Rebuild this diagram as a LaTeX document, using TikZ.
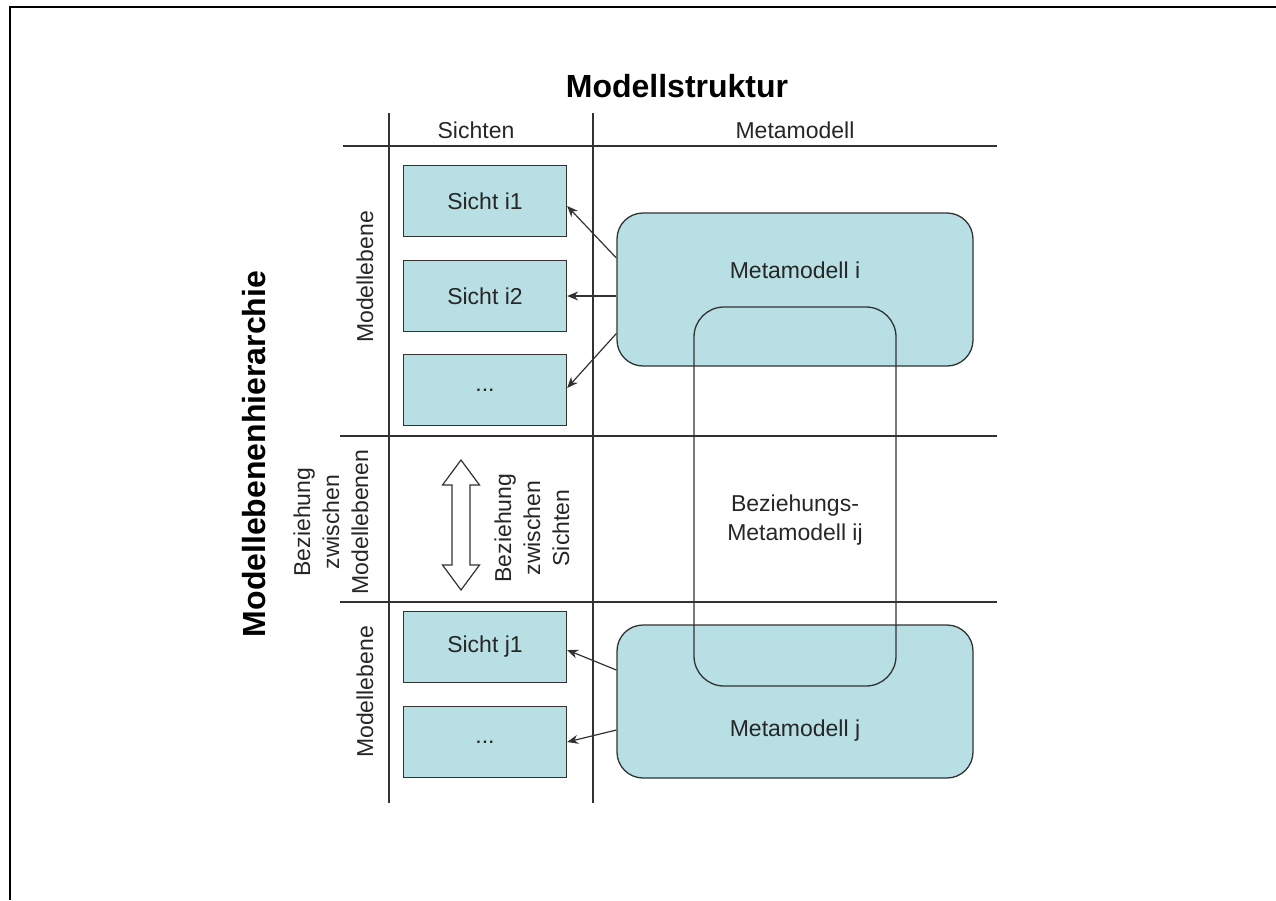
\documentclass[tikz,border=0pt]{standalone}
\usepackage{fontspec}
\setmainfont{Liberation Sans}
\usetikzlibrary{arrows.meta}
\definecolor{boxfill}{RGB}{184,223,227}
\definecolor{linec}{RGB}{50,50,50}
\tikzset{
  txt/.style={font=\fontsize{23}{29}\selectfont, text=black!85, inner sep=0pt},
  bold/.style={font=\fontsize{32}{38}\selectfont\bfseries, text=black, inner sep=0pt},
  sichtbox/.style={draw=linec, line width=1.3pt, fill=boxfill, minimum width=163pt, minimum height=71pt, inner sep=0pt, font=\fontsize{23}{29}\selectfont, text=black!85},
  metabox/.style={draw=linec, line width=1.3pt, fill=boxfill, rounded corners=26pt, minimum width=356pt, minimum height=153pt, inner sep=0pt},
  grid/.style={draw=linec, line width=1.6pt},
  arr/.style={draw=linec, line width=1.2pt, -{Stealth[length=11pt, width=9pt]}},
}
\begin{document}
\begin{tikzpicture}[x=1pt, y=-1pt]
\useasboundingbox (0,0) rectangle (1276,900);
% outer frame (clipped)
\draw[black, line width=1.6pt] (10,900) -- (10,7) -- (1276,7);

% grid
\draw[grid] (343,146) -- (997,146);
\draw[grid] (340,436) -- (997,436);
\draw[grid] (340,602) -- (997,602);
\draw[grid] (389,113) -- (389,803);
\draw[grid] (593,113) -- (593,803);

% headings
\node[bold] (title) at (677,86) {Modellstruktur};
\node[bold, rotate=90] (hier) at (254,454) {Modellebenenhierarchie};
\node[txt] (hsicht) at (476,130) {Sichten};
\node[txt] (hmeta) at (795,130) {Metamodell};
\node[txt, rotate=90] (ml1) at (365,277) {Modellebene};
\node[txt, rotate=90] (ml2) at (365,692) {Modellebene};
\node[txt, rotate=90, align=center] (bzm) at (331,522) {Beziehung\\zwischen\\Modellebenen};
\node[txt, rotate=90, align=center] (bzs) at (532,528) {Beziehung\\zwischen\\Sichten};

% Sicht boxes
\node[sichtbox] (si1) at (485,201) {Sicht i1};
\node[sichtbox] (si2) at (485,296) {Sicht i2};
\node[sichtbox] (si3) at (485,390) {...};
\node[sichtbox] (sj1) at (485,647) {Sicht j1};
\node[sichtbox] (sj2) at (485,742) {...};

% Metamodell boxes
\node[metabox] (mi) at (795,289.5) {};
\node[txt] (mit) at (795,270) {Metamodell i};
\node[metabox] (mj) at (795,701.5) {};
\node[txt] (mjt) at (795,731) {Metamodell j};

% Beziehungs-Metamodell
\node[draw=linec, line width=1.3pt, rounded corners=30pt, minimum width=202pt, minimum height=379pt, inner sep=0pt] (bm) at (795,496.5) {};
\node[txt, align=center] (bmt) at (795,520) {Beziehungs-\\Metamodell ij};

% arrows
\draw[arr] ([yshift=31.5pt]mi.west) -- ([yshift=-5pt]si1.east);
\draw[arr] (mi.west |- si2.east) -- (si2.east);
\draw[arr] ([yshift=-44pt]mi.west) -- ([yshift=2pt]si3.east);
\draw[arr] ([yshift=31.5pt]mj.west) -- ([yshift=-3pt]sj1.east);
\draw[arr] ([yshift=-28.5pt]mj.west) -- (sj2.east);

% hollow double arrow
\coordinate (da) at (461,525);
\draw[linec, line width=1.2pt, fill=white, line join=miter]
  ([shift={(0,-65)}]da) -- ([shift={(18.5,-40)}]da) -- ([shift={(9,-40)}]da)
  -- ([shift={(9,40)}]da) -- ([shift={(18.5,40)}]da) -- ([shift={(0,65)}]da)
  -- ([shift={(-18.5,40)}]da) -- ([shift={(-9,40)}]da) -- ([shift={(-9,-40)}]da)
  -- ([shift={(-18.5,-40)}]da) -- cycle;
\end{tikzpicture}
\end{document}
